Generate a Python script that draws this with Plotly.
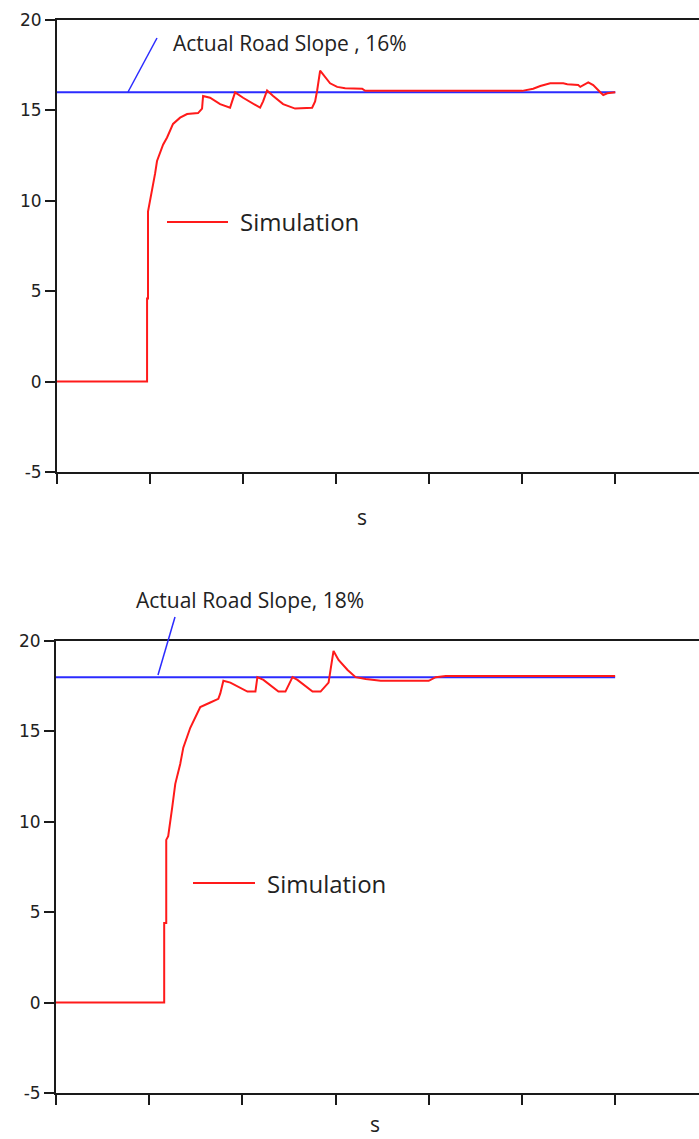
import plotly.graph_objects as go

W, H = 699, 1139

t_sim_16 = [0, 0.968, 0.968, 0.978, 0.978, 1.022, 1.054, 1.075, 1.140, 1.183, 1.247, 1.323,
            1.398, 1.516, 1.559, 1.570, 1.645, 1.753, 1.860, 1.882, 1.914, 2.000, 2.108,
            2.183, 2.215, 2.258, 2.323, 2.430, 2.559, 2.742, 2.774, 2.796, 2.828, 2.882,
            2.935, 3.011, 3.097, 3.280, 3.312, 5.000, 5.118, 5.194, 5.301, 5.441, 5.484,
            5.602, 5.624, 5.710, 5.763, 5.839, 5.871, 5.914, 6.000]
y_sim_16 = [0, 0, 4.6, 4.6, 9.4, 10.5, 11.5, 12.2, 13.1, 13.5, 14.25, 14.6,
            14.8, 14.85, 15.1, 15.8, 15.7, 15.35, 15.15, 15.5, 16.0, 15.7, 15.35,
            15.15, 15.5, 16.1, 15.8, 15.35, 15.1, 15.15, 15.5, 16.1, 17.2, 16.85,
            16.5, 16.3, 16.22, 16.2, 16.08, 16.08, 16.2, 16.35, 16.5, 16.5, 16.45,
            16.4, 16.3, 16.55, 16.4, 16.0, 15.85, 15.95, 16.0]
t_ref_16 = [0, 6]
y_ref_16 = [16, 16]

t_sim_18 = [0, 1.161, 1.161, 1.183, 1.183, 1.204, 1.247, 1.280, 1.333, 1.366, 1.441, 1.548,
            1.656, 1.742, 1.763, 1.796, 1.871, 2.054, 2.140, 2.161, 2.226, 2.387, 2.462,
            2.538, 2.591, 2.753, 2.839, 2.925, 2.946, 2.978, 3.032, 3.129, 3.215, 3.323,
            3.484, 4.000, 4.075, 4.183, 6.000]
y_sim_18 = [0, 0, 4.4, 4.4, 9.0, 9.2, 10.8, 12.1, 13.2, 14.1, 15.2, 16.35,
            16.6, 16.8, 17.1, 17.8, 17.7, 17.2, 17.2, 18.0, 17.85, 17.2, 17.2,
            18.0, 17.85, 17.2, 17.2, 17.7, 18.4, 19.45, 18.95, 18.4, 18.0, 17.9,
            17.8, 17.8, 18.0, 18.07, 18.07]
t_ref_18 = [0, 6]
y_ref_18 = [18, 18]

y_ticks = [-5, 0, 5, 10, 15, 20]
y_tick_labels = ["-5", "0", "5", "10", "15", "20"]
x_ticks = [0, 1, 2, 3, 4, 5, 6]

RED = "#ff1a1a"
BLUE = "#2b2bff"
AX = "#1a1a1a"
TXT = "#222222"
TFONT = "Open Sans"


def px(x):
    return x / W


def py(y):
    return 1 - y / H


fig = go.Figure()
fig.add_trace(go.Scatter(x=t_ref_16, y=y_ref_16, mode="lines", line=dict(color=BLUE, width=2),
                         xaxis="x", yaxis="y", showlegend=False, hoverinfo="skip"))
fig.add_trace(go.Scatter(x=t_sim_16, y=y_sim_16, mode="lines", line=dict(color=RED, width=2),
                         xaxis="x", yaxis="y", showlegend=False))
fig.add_trace(go.Scatter(x=t_ref_18, y=y_ref_18, mode="lines", line=dict(color=BLUE, width=2),
                         xaxis="x2", yaxis="y2", showlegend=False, hoverinfo="skip"))
fig.add_trace(go.Scatter(x=t_sim_18, y=y_sim_18, mode="lines", line=dict(color=RED, width=2),
                         xaxis="x2", yaxis="y2", showlegend=False))

xcommon = dict(range=[0, 6.9], showticklabels=False, ticks="",
               minor=dict(tickmode="array", tickvals=x_ticks, ticks="outside", ticklen=10,
                          tickwidth=2, tickcolor=AX, showgrid=False),
               showline=True, linecolor=AX, linewidth=2, mirror=True, showgrid=False,
               zeroline=False, automargin=False, fixedrange=True)
ycommon = dict(range=[-5, 20], tickmode="array", tickvals=y_ticks, ticktext=y_tick_labels,
               ticks="outside", ticklen=10, tickwidth=2, tickcolor=AX, showline=True,
               linecolor=AX, linewidth=2, showgrid=False, zeroline=False, automargin=False,
               tickfont=dict(family="DejaVu Sans", size=17, color=TXT), fixedrange=True)

fig.update_layout(
    width=W, height=H, template="none",
    margin=dict(l=0, r=0, t=0, b=0),
    paper_bgcolor="white", plot_bgcolor="white",
    xaxis=dict(domain=[px(57), 1], anchor="y", **xcommon),
    yaxis=dict(domain=[py(472), py(20)], anchor="x", **ycommon),
    xaxis2=dict(domain=[px(56), 1], anchor="y2", **xcommon),
    yaxis2=dict(domain=[py(1093), py(641)], anchor="x2", **ycommon),
)

shapes = [
    dict(type="line", xref="paper", yref="paper", x0=px(128), y0=py(92), x1=px(157), y1=py(38),
         line=dict(color=BLUE, width=1.5)),
    dict(type="line", xref="paper", yref="paper", x0=px(167), y0=py(222), x1=px(228), y1=py(222),
         line=dict(color=RED, width=2)),
    dict(type="line", xref="paper", yref="paper", x0=px(158), y0=py(675), x1=px(175), y1=py(617),
         line=dict(color=BLUE, width=1.5)),
    dict(type="line", xref="paper", yref="paper", x0=px(193), y0=py(883), x1=px(255), y1=py(883),
         line=dict(color=RED, width=2)),
]
fig.update_layout(shapes=shapes)

afont = dict(family=TFONT, size=21, color=TXT)
sfont = dict(family=TFONT, size=24, color=TXT)
annots = [
    dict(text="Actual Road Slope , 16%", x=px(171), y=py(43), font=afont),
    dict(text="Simulation", x=px(238), y=py(221), font=sfont),
    dict(text="Actual Road Slope, 18%", x=px(134), y=py(600), font=afont),
    dict(text="Simulation", x=px(265), y=py(883), font=sfont),
    dict(text="s", x=px(362), y=py(517), font=afont, xanchor="center"),
    dict(text="s", x=px(375), y=py(1124), font=afont, xanchor="center"),
]
for a in annots:
    a.setdefault("xanchor", "left")
    a.update(xref="paper", yref="paper", yanchor="middle", showarrow=False)
fig.update_layout(annotations=annots)

fig.write_html("out.html", config={"displayModeBar": False})
